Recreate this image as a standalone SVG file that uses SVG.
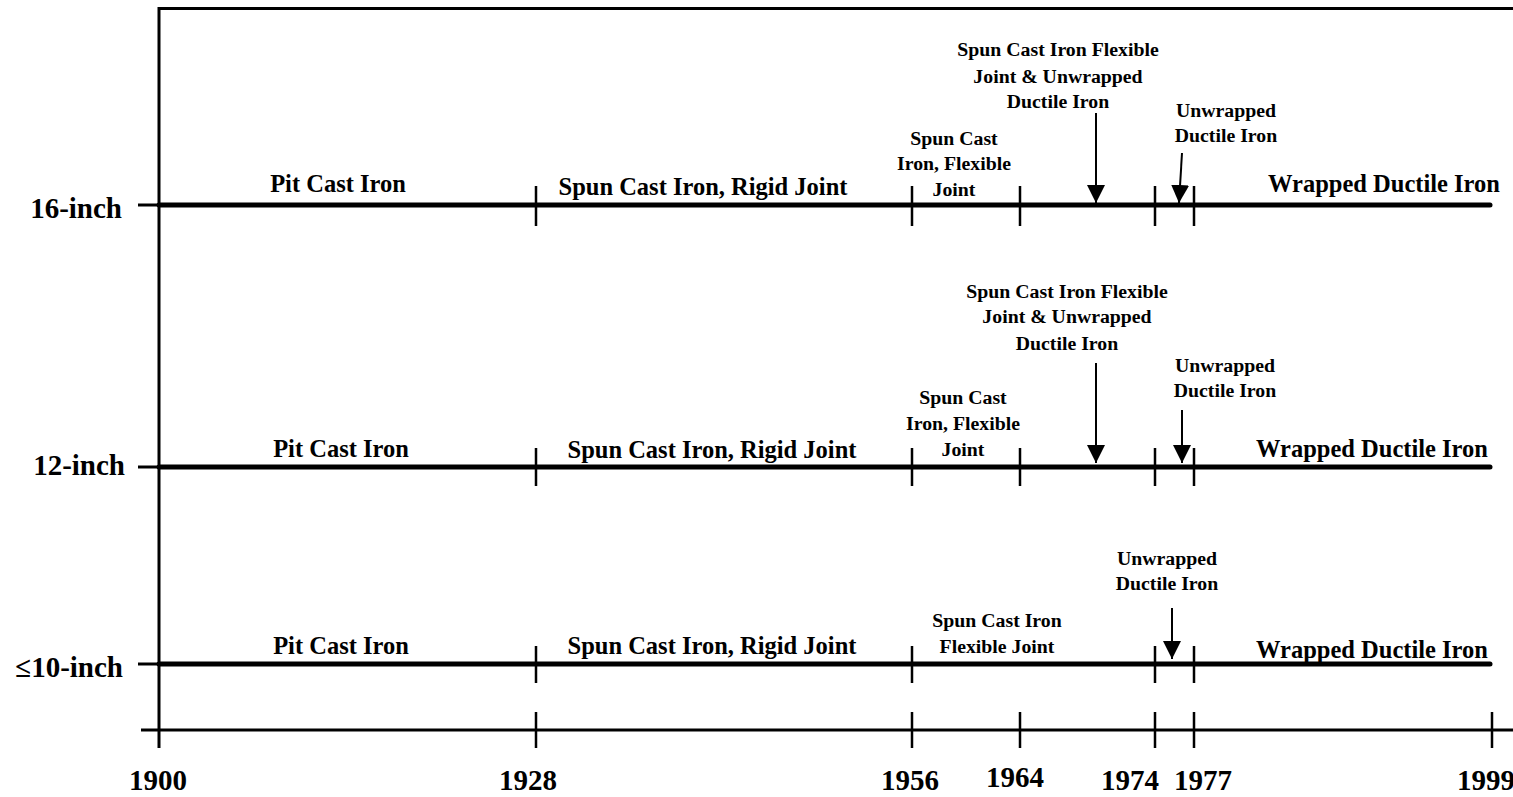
<svg xmlns="http://www.w3.org/2000/svg" width="1513" height="797" viewBox="0 0 1513 797">
<style>
text{font-family:"Liberation Serif","Times New Roman",serif;font-weight:bold;fill:#000}
.yr{font-size:29px;text-anchor:middle}
.row{font-size:29px;text-anchor:end}
.big{font-size:24.5px;text-anchor:middle}
.sm{font-size:19.8px;text-anchor:middle}
.frame{stroke:#000;stroke-width:3;fill:none}
.lvl{stroke:#000;stroke-width:5;fill:none;stroke-linecap:round}
.tk{stroke:#000;stroke-width:2.5;fill:none}
.arr{stroke:#000;stroke-width:2;fill:none}
</style>
<defs>
<marker id="ah" viewBox="0 0 10 10" refX="10" refY="5" markerWidth="18" markerHeight="18" markerUnits="userSpaceOnUse" orient="auto">
<path d="M0,0 L10,5 L0,10 Z" fill="#000"/>
</marker>
</defs>
<rect width="1513" height="797" fill="#fff"/>
<g id="frame">
<line class="frame" x1="159" y1="8.5" x2="1513" y2="8.5"/>
<line class="frame" x1="159" y1="7" x2="159" y2="748"/>
<line class="frame" x1="141" y1="730" x2="1513" y2="730"/>
<path class="tk" d="M536,712V748M912,712V748M1020,712V748M1155,712V748M1194,712V748M1492,712V748"/>
</g>
<g id="years">
<text class="yr" x="158" y="790">1900</text>
<text class="yr" x="528" y="790">1928</text>
<text class="yr" x="910" y="790">1956</text>
<text class="yr" x="1015" y="787">1964</text>
<text class="yr" x="1130" y="790">1974</text>
<text class="yr" x="1203" y="790">1977</text>
<text class="yr" x="1486" y="790">1999</text>
</g>
<g id="row16">
<line class="frame" x1="138" y1="205" x2="159" y2="205"/>
<line class="lvl" x1="159" y1="205" x2="1490" y2="205"/>
<path class="tk" d="M536,186V226M912,186V226M1020,186V226M1155,186V226M1194,186V226"/>
<text class="row" x="122" y="218">16-inch</text>
<text class="big" x="338" y="192">Pit Cast Iron</text>
<text class="big" x="703" y="195">Spun Cast Iron, Rigid Joint</text>
<text class="big" x="1384" y="192">Wrapped Ductile Iron</text>
<text class="sm" x="954"><tspan x="954" y="145">Spun Cast</tspan><tspan x="954" y="170">Iron, Flexible</tspan><tspan x="954" y="196">Joint</tspan></text>
<text class="sm" x="1058"><tspan x="1058" y="56">Spun Cast Iron Flexible</tspan><tspan x="1058" y="83">Joint &amp; Unwrapped</tspan><tspan x="1058" y="108">Ductile Iron</tspan></text>
<text class="sm" x="1226"><tspan x="1226" y="117">Unwrapped</tspan><tspan x="1226" y="142">Ductile Iron</tspan></text>
</g>
<g id="row12">
<line class="frame" x1="138" y1="467" x2="159" y2="467"/>
<line class="lvl" x1="159" y1="467" x2="1490" y2="467"/>
<path class="tk" d="M536,448V486M912,448V486M1020,448V486M1155,448V486M1194,448V486"/>
<text class="row" x="125" y="475">12-inch</text>
<text class="big" x="341" y="457">Pit Cast Iron</text>
<text class="big" x="712" y="458">Spun Cast Iron, Rigid Joint</text>
<text class="big" x="1372" y="457">Wrapped Ductile Iron</text>
<text class="sm" x="963"><tspan x="963" y="404">Spun Cast</tspan><tspan x="963" y="430">Iron, Flexible</tspan><tspan x="963" y="456">Joint</tspan></text>
<text class="sm" x="1067"><tspan x="1067" y="298">Spun Cast Iron Flexible</tspan><tspan x="1067" y="323">Joint &amp; Unwrapped</tspan><tspan x="1067" y="350">Ductile Iron</tspan></text>
<text class="sm" x="1225"><tspan x="1225" y="372">Unwrapped</tspan><tspan x="1225" y="397">Ductile Iron</tspan></text>
</g>
<g id="row10">
<line class="frame" x1="138" y1="664" x2="159" y2="664"/>
<line class="lvl" x1="159" y1="664" x2="1490" y2="664"/>
<path class="tk" d="M536,646V683M912,646V683M1155,646V683M1194,646V683"/>
<text class="row" x="123" y="677">≤10-inch</text>
<text class="big" x="341" y="654">Pit Cast Iron</text>
<text class="big" x="712" y="654">Spun Cast Iron, Rigid Joint</text>
<text class="big" x="1372" y="658">Wrapped Ductile Iron</text>
<text class="sm" x="997"><tspan x="997" y="627">Spun Cast Iron</tspan><tspan x="997" y="653">Flexible Joint</tspan></text>
<text class="sm" x="1167"><tspan x="1167" y="565">Unwrapped</tspan><tspan x="1167" y="590">Ductile Iron</tspan></text>
</g>
<g id="connectors">
<line class="arr" x1="1096" y1="113" x2="1096" y2="203" marker-end="url(#ah)"/>
<line class="arr" x1="1182" y1="153" x2="1179" y2="203" marker-end="url(#ah)"/>
<line class="arr" x1="1096" y1="363" x2="1096" y2="463" marker-end="url(#ah)"/>
<line class="arr" x1="1182" y1="410" x2="1182" y2="463" marker-end="url(#ah)"/>
<line class="arr" x1="1172" y1="608" x2="1172" y2="659" marker-end="url(#ah)"/>
</g>
</svg>
